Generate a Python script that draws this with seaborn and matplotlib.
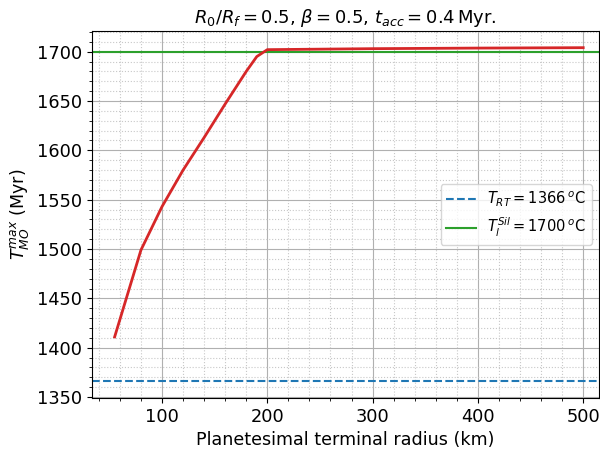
import numpy as np
import pandas as pd
import matplotlib
matplotlib.use("Agg")
import matplotlib.pyplot as plt
from matplotlib.ticker import AutoMinorLocator
import seaborn as sns

radius_km = [55, 80, 100, 120, 140, 160, 180, 190, 200, 250, 300, 350, 400, 450, 500]
t_max = [1411, 1499, 1543, 1580, 1613, 1647, 1680, 1695, 1702, 1702.5, 1703, 1703.3, 1703.6, 1703.8, 1704]
t_rt = 1366
t_liq = 1700

df = pd.DataFrame({"radius": radius_km, "tmax": t_max})

fig = plt.figure(figsize=(6, 4.5), dpi=100)
ax = fig.add_axes([92 / 600, 1 - 398 / 450, 507 / 600, 367 / 450])

sns.lineplot(data=df, x="radius", y="tmax", color="#d62728", lw=2, ax=ax, zorder=3)
ax.axhline(t_rt, color="#1f77b4", ls="--", lw=1.5, label=r"$T_{RT} = 1366\,^{o}$C")
ax.axhline(t_liq, color="#2ca02c", ls="-", lw=1.5, label=r"$T_{l}^{Sil} = 1700\,^{o}$C")

ax.set_xlim(33.5, 515)
ax.xaxis.set_minor_locator(AutoMinorLocator(5))
ax.yaxis.set_minor_locator(AutoMinorLocator(5))
ax.grid(which="major", color="#b0b0b0", lw=0.8)
ax.grid(which="minor", color="#c8c8c8", ls=":", lw=0.8)
ax.tick_params(labelsize=12.8)

ax.set_title(r"$R_0/R_f = 0.5$, $\beta = 0.5$, $t_{acc} = 0.4\,$Myr.", fontsize=13)
ax.set_xlabel("Planetesimal terminal radius (km)", fontsize=12.6)
ax.set_ylabel(r"$T_{MO}^{max}$ (Myr)", fontsize=12.6)
ax.legend(loc="center right", fontsize=10.5)

plt.savefig("out.png", dpi=100)
